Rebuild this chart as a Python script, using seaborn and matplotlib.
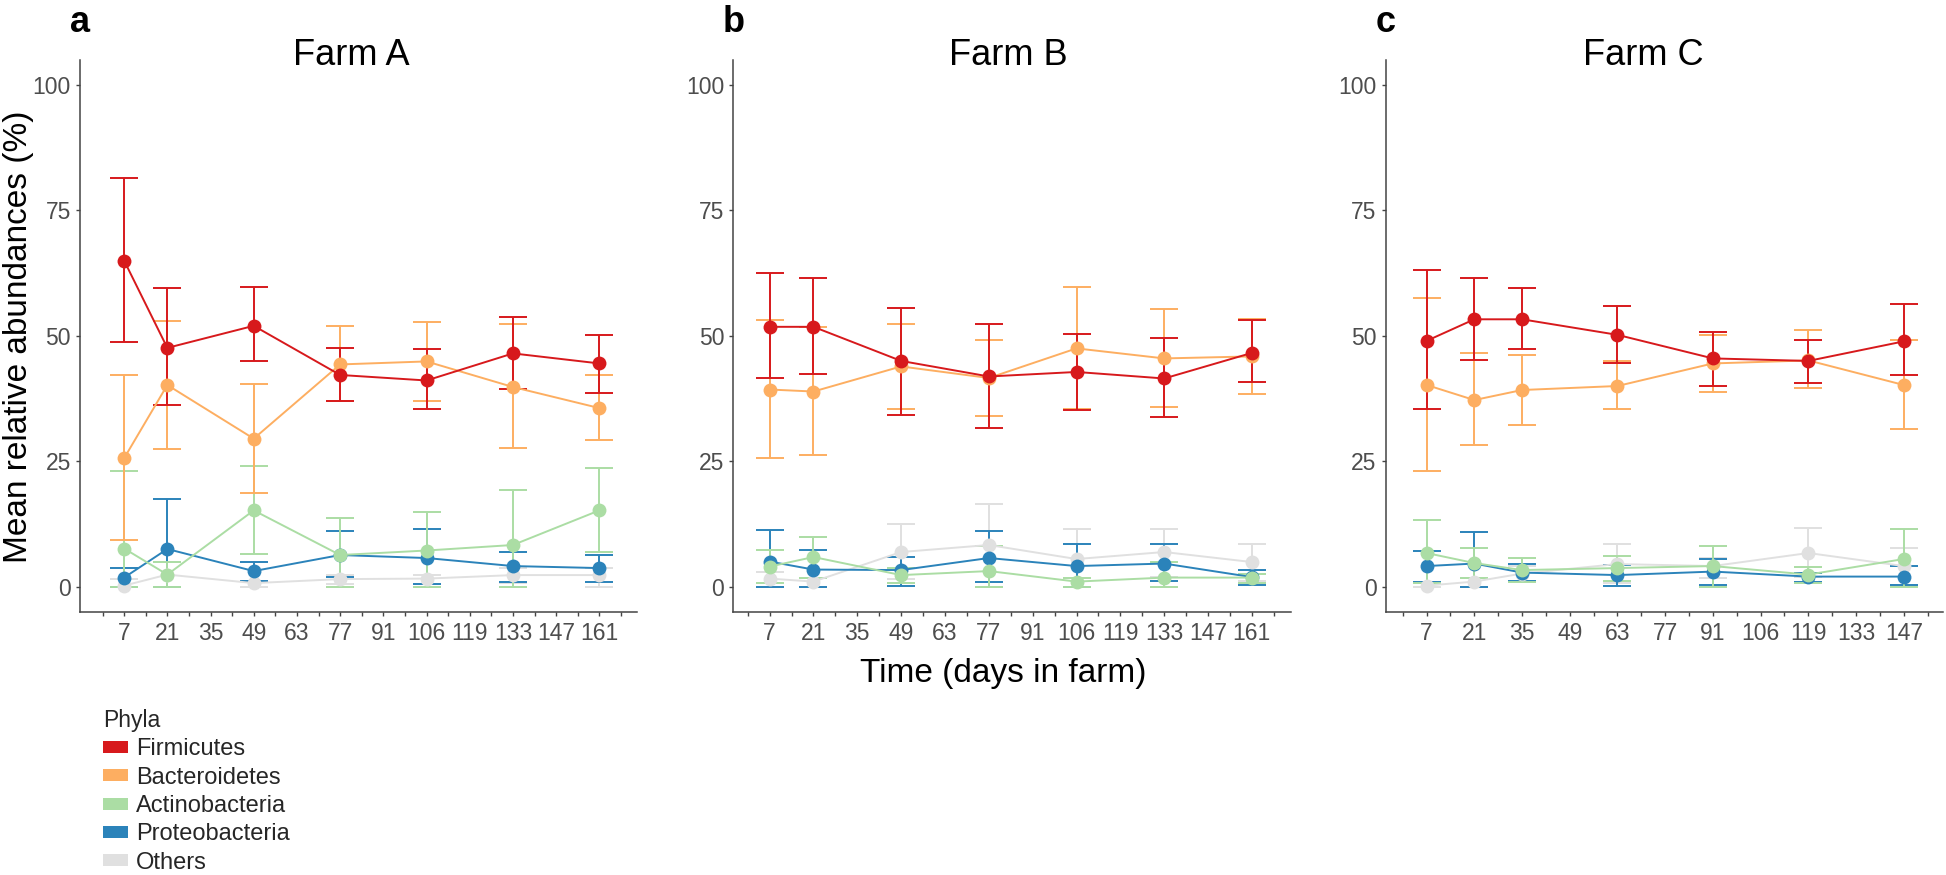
import numpy as np
import pandas as pd
import matplotlib
matplotlib.use("Agg")
import matplotlib.pyplot as plt
from matplotlib.patches import Patch
import seaborn as sns

# phyla, legend order (Firmicutes drawn last so it sits on top)
phyla = ["Firmicutes", "Bacteroidetes", "Actinobacteria", "Proteobacteria", "Others"]
colors = ["#d7191c", "#fdae61", "#abdda4", "#2b83ba", "#e0e0e0"]

# ---- Farm A ----
days_a = [7, 21, 49, 77, 105, 133, 161]
a_firm = [65.0, 47.6, 52.0, 42.2, 41.1, 46.5, 44.5]
a_firm_lo = [48.8, 36.2, 44.9, 37.0, 35.4, 39.4, 38.6]
a_firm_hi = [81.5, 59.5, 59.8, 47.6, 47.4, 53.8, 50.2]
a_bact = [25.6, 40.2, 29.5, 44.3, 44.9, 39.8, 35.6]
a_bact_lo = [9.3, 27.4, 18.7, 37.0, 37.0, 27.6, 29.3]
a_bact_hi = [42.1, 53.0, 40.3, 51.9, 52.7, 52.4, 42.1]
a_acti = [7.6, 2.4, 15.2, 6.3, 7.2, 8.3, 15.2]
a_acti_lo = [0.0, 0.0, 6.5, 0.0, 0.0, 0.0, 6.9]
a_acti_hi = [23.0, 5.0, 24.1, 13.7, 14.8, 19.3, 23.7]
a_prot = [1.8, 7.5, 3.1, 6.3, 5.7, 4.1, 3.7]
a_prot_lo = [0.0, 0.0, 1.2, 2.0, 0.5, 1.0, 1.0]
a_prot_hi = [3.7, 17.5, 5.0, 11.0, 11.4, 6.9, 6.3]
a_oth = [0.2, 2.4, 0.7, 1.5, 1.6, 2.3, 2.3]
a_oth_lo = [0.0, 0.0, 0.0, 0.6, 0.6, 0.8, 0.0]
a_oth_hi = [1.6, 4.9, 1.2, 2.3, 2.4, 3.7, 3.7]

# ---- Farm B ----
days_b = [7, 21, 49, 77, 105, 133, 161]
b_firm = [51.8, 51.8, 45.0, 41.9, 42.8, 41.5, 46.6]
b_firm_lo = [41.5, 42.3, 34.3, 31.7, 35.2, 33.9, 40.7]
b_firm_hi = [62.6, 61.5, 55.5, 52.3, 50.4, 49.6, 53.1]
b_bact = [39.3, 38.9, 43.9, 41.6, 47.5, 45.5, 45.9]
b_bact_lo = [25.6, 26.2, 35.5, 34.1, 35.4, 35.8, 38.5]
b_bact_hi = [53.1, 51.8, 52.4, 49.2, 59.7, 55.3, 53.3]
b_acti = [4.0, 5.9, 2.3, 3.1, 1.0, 1.8, 1.8]
b_acti_lo = [0.8, 1.8, 0.7, 0.0, 0.0, 0.0, 0.8]
b_acti_hi = [7.3, 9.9, 3.8, 8.1, 1.8, 4.9, 2.6]
b_prot = [5.0, 3.4, 3.3, 5.7, 4.1, 4.6, 1.9]
b_prot_lo = [0.0, 0.0, 0.2, 1.0, 0.0, 1.2, 0.4]
b_prot_hi = [11.2, 7.3, 5.9, 11.0, 8.5, 8.4, 3.3]
b_oth = [1.6, 1.0, 6.9, 8.3, 5.5, 6.9, 4.9]
b_oth_lo = [0.0, 0.0, 1.6, 0.0, 0.0, 2.0, 1.2]
b_oth_hi = [3.0, 1.8, 12.4, 16.4, 11.5, 11.5, 8.4]

# ---- Farm C ----
days_c = [7, 21, 35, 63, 91, 119, 147]
c_firm = [49.0, 53.3, 53.3, 50.2, 45.5, 45.0, 48.9]
c_firm_lo = [35.4, 45.2, 47.4, 44.5, 40.1, 40.5, 42.1]
c_firm_hi = [63.2, 61.6, 59.5, 55.9, 50.8, 49.2, 56.3]
c_bact = [40.2, 37.2, 39.2, 40.0, 44.5, 45.1, 40.2]
c_bact_lo = [23.0, 28.2, 32.3, 35.4, 38.8, 39.7, 31.5]
c_bact_hi = [57.5, 46.6, 46.1, 45.0, 50.2, 51.2, 49.2]
c_acti = [6.7, 4.7, 3.3, 3.7, 4.1, 2.4, 5.5]
c_acti_lo = [0.8, 1.8, 1.0, 1.2, 0.0, 0.8, 0.0]
c_acti_hi = [13.3, 7.7, 5.7, 6.1, 8.1, 3.9, 11.4]
c_prot = [4.1, 4.6, 2.8, 2.3, 3.0, 2.0, 2.0]
c_prot_lo = [1.0, 0.0, 1.2, 0.2, 0.3, 1.0, 0.4]
c_prot_hi = [7.2, 10.8, 4.5, 4.3, 5.5, 2.8, 4.1]
c_oth = [0.2, 1.0, 2.6, 4.5, 4.1, 6.7, 4.1]
c_oth_lo = [0.0, 0.0, 1.2, 0.8, 1.8, 2.0, 0.4]
c_oth_hi = [0.8, 1.8, 4.1, 8.4, 5.7, 11.6, 7.7]

# tick labels (the "106" label sits on day 105)
tick_pos_ab = [7, 21, 35, 49, 63, 77, 91, 105, 119, 133, 147, 161]
tick_lab_ab = ["7", "21", "35", "49", "63", "77", "91", "106", "119", "133", "147", "161"]
tick_pos_c = [7, 21, 35, 49, 63, 77, 91, 105, 119, 133, 147]
tick_lab_c = ["7", "21", "35", "49", "63", "77", "91", "106", "119", "133", "147"]
y_ticks = [0, 25, 50, 75, 100]


def to_long(days, series):
    rows = []
    for name, (m, lo, hi) in zip(phyla, series):
        for d, v, l, h in zip(days, m, lo, hi):
            rows.append({"day": d, "phylum": name, "mean": v, "lo": l, "hi": h})
    return pd.DataFrame(rows)


df_a = to_long(days_a, [(a_firm, a_firm_lo, a_firm_hi), (a_bact, a_bact_lo, a_bact_hi),
                        (a_acti, a_acti_lo, a_acti_hi), (a_prot, a_prot_lo, a_prot_hi),
                        (a_oth, a_oth_lo, a_oth_hi)])
df_b = to_long(days_b, [(b_firm, b_firm_lo, b_firm_hi), (b_bact, b_bact_lo, b_bact_hi),
                        (b_acti, b_acti_lo, b_acti_hi), (b_prot, b_prot_lo, b_prot_hi),
                        (b_oth, b_oth_lo, b_oth_hi)])
df_c = to_long(days_c, [(c_firm, c_firm_lo, c_firm_hi), (c_bact, c_bact_lo, c_bact_hi),
                        (c_acti, c_acti_lo, c_acti_hi), (c_prot, c_prot_lo, c_prot_hi),
                        (c_oth, c_oth_lo, c_oth_hi)])

sns.set_theme(style="ticks")
plt.rcParams["font.family"] = ["Liberation Sans", "DejaVu Sans"]

W, H = 1946, 875
fig = plt.figure(figsize=(W / 100, H / 100), dpi=100)

panels = [
    # df, left px, right px, xlim, tick pos, tick labels, minor max, title, title x px, letter
    (df_a, 80.0, 637.3, (-7.3, 173.3), tick_pos_ab, tick_lab_ab, 168, "Farm A", 351, "a"),
    (df_b, 733.3, 1290.7, (-4.6, 173.4), tick_pos_ab, tick_lab_ab, 168, "Farm B", 1008, "b"),
    (df_c, 1385.7, 1943.3, (-5.0, 158.6), tick_pos_c, tick_lab_c, 154, "Farm C", 1643, "c"),
]
top_px, bot_px = 60.0, 611.7
palette = dict(zip(phyla, colors))

for df, lpx, rpx, xlim, tpos, tlab, mmax, title, tx, letter in panels:
    ax = fig.add_axes([lpx / W, 1 - bot_px / H, (rpx - lpx) / W, (bot_px - top_px) / H])

    # error bars first, all groups
    for name in phyla[::-1]:
        sub = df[df["phylum"] == name]
        ax.errorbar(sub["day"], sub["mean"],
                    yerr=[sub["mean"] - sub["lo"], sub["hi"] - sub["mean"]],
                    fmt="none", ecolor=palette[name], elinewidth=1.4,
                    capsize=10, capthick=1.4, zorder=2)
    # lines + points, Others at the back, Firmicutes in front
    for name in phyla[::-1]:
        sub = df[df["phylum"] == name]
        sns.lineplot(data=sub, x="day", y="mean", color=palette[name], marker="o",
                     markersize=10, markeredgewidth=0, linewidth=1.4, ax=ax,
                     zorder=3, legend=False)

    ax.set_xlim(*xlim)
    ax.set_ylim(-5, 105)
    ax.set_xticks(tpos)
    ax.set_xticklabels(tlab)
    ax.set_xticks([p - 7 for p in tpos] + [mmax], minor=True)
    ax.set_yticks(y_ticks)
    ax.set_yticklabels([str(v) for v in y_ticks])
    ax.tick_params(axis="both", which="both", length=3, width=1, color="#444444",
                   labelsize=16.5, labelcolor="#4D4D4D")
    ax.tick_params(axis="x", which="major", pad=4.5)
    ax.tick_params(axis="y", which="major", pad=3.5)
    ax.set_xlabel("")
    ax.set_ylabel("")
    sns.despine(ax=ax)
    for s in ["left", "bottom"]:
        ax.spines[s].set_color("#444444")
        ax.spines[s].set_linewidth(1.1)

    fig.text(tx / W, 1 - 65 / H, title, ha="center", va="baseline",
             fontsize=26, color="black")
    fig.text(lpx / W, 1 - 32 / H, letter, ha="center", va="baseline",
             fontsize=26, fontweight="bold", color="black")

fig.text(19 / W, 1 - 337 / H, "Mean relative abundances (%)", rotation=90,
         ha="center", va="center", fontsize=24, color="black")
fig.text(1003 / W, 1 - 682 / H, "Time (days in farm)", ha="center", va="baseline",
         fontsize=24, color="black")

handles = [Patch(facecolor=c, edgecolor="none", label=n) for n, c in zip(phyla, colors)]
leg = fig.legend(handles=handles, title="Phyla", loc="upper left",
                 bbox_to_anchor=(103 / W, 1 - 709 / H), frameon=False,
                 fontsize=17, title_fontsize=16.5, borderpad=0, borderaxespad=0,
                 handlelength=1.04, handleheight=0.4, handletextpad=0.36,
                 labelspacing=0.27, alignment="left")

fig.savefig("out.png", dpi=100)
plt.close(fig)
